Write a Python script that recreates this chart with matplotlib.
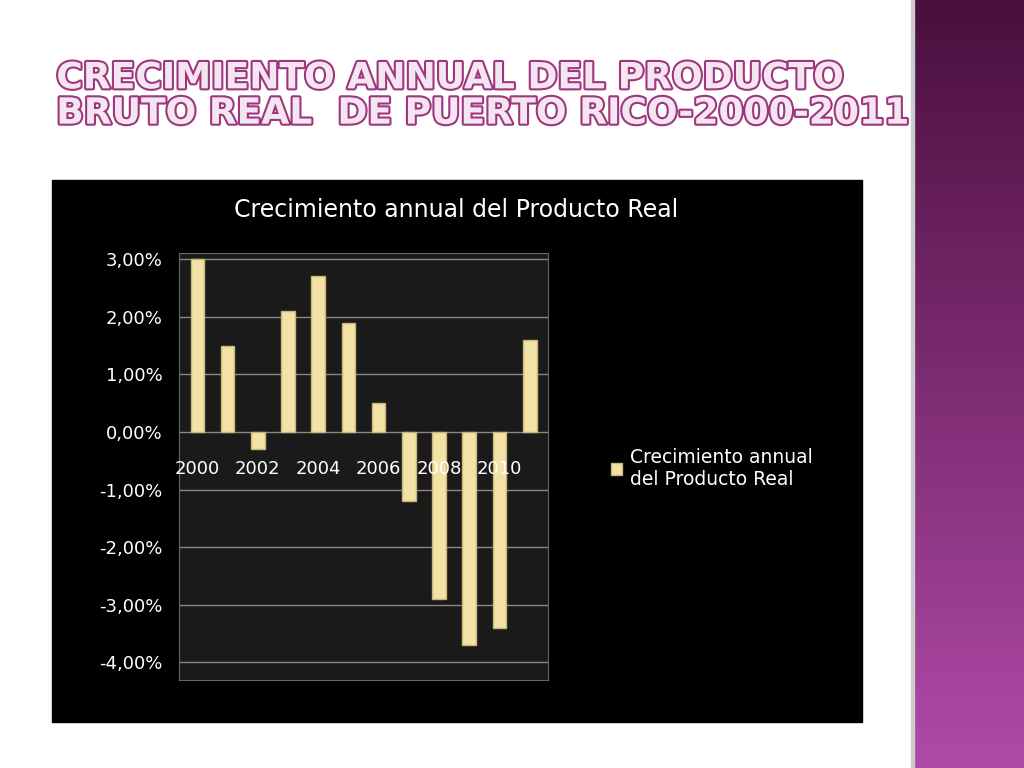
import matplotlib
matplotlib.use("Agg")
import matplotlib.pyplot as plt
import matplotlib.patheffects as pe
import matplotlib.colors as mcolors
from matplotlib.patches import Rectangle
import numpy as np

years = [2000, 2001, 2002, 2003, 2004, 2005, 2006, 2007, 2008, 2009, 2010, 2011]
growth = [3.0, 1.5, -0.3, 2.1, 2.7, 1.9, 0.5, -1.2, -2.9, -3.7, -3.4, 1.6]
yticks = [3, 2, 1, 0, -1, -2, -3, -4]
ytick_labels = ["3,00%", "2,00%", "1,00%", "0,00%", "-1,00%", "-2,00%", "-3,00%", "-4,00%"]
year_labels = ["2000", "2002", "2004", "2006", "2008", "2010"]

fig = plt.figure(figsize=(10.24, 7.68), dpi=100)
fig.patch.set_facecolor("white")
strip = fig.add_axes([0.893, 0, 0.107, 1])
strip.axis("off")
grad = np.linspace(0, 1, 256).reshape(-1, 1)
strip.imshow(grad, aspect="auto", cmap=mcolors.LinearSegmentedColormap.from_list("p", ["#4a0f3e", "#b04aa8"]), extent=[0, 1, 0, 1], origin="upper")
fig.add_artist(Rectangle((0.890, 0), 0.003, 1, transform=fig.transFigure, color="#cccccc"))

fig.text(0.055, 0.875, "CRECIMIENTO ANNUAL DEL PRODUCTO\nBRUTO REAL  DE PUERTO RICO-2000-2011",
         fontsize=26, fontweight="bold", color="#f4e6f0", family="DejaVu Sans",
         va="center", ha="left", linespacing=1.05,
         path_effects=[pe.withStroke(linewidth=3, foreground="#a0357f")])

fig.add_artist(Rectangle((0.051, 0.060), 0.791, 0.706, transform=fig.transFigure, color="black", zorder=0))
fig.text(0.445, 0.727, "Crecimiento annual del Producto Real", color="white", fontsize=17, ha="center", va="center")

ax = fig.add_axes([0.175, 0.115, 0.36, 0.555])
ax.set_facecolor("#1a1a1a")
x = np.arange(len(years))
ax.bar(x, growth, width=0.45, color="#f3e2a6", edgecolor="#c9b57a", linewidth=1, zorder=3, label="Crecimiento annual\ndel Producto Real")
ax.set_ylim(-4.3, 3.1)
ax.set_xlim(-0.6, 11.6)
ax.set_yticks(yticks)
ax.set_yticklabels(ytick_labels, color="white", fontsize=13)
ax.yaxis.grid(True, color="#888888", linewidth=1, zorder=0)
ax.set_xticks([])
for i, lab in enumerate(year_labels):
    ax.text(2 * i, -0.65, lab, color="white", fontsize=13, ha="center", va="center", zorder=4)
for s in ax.spines.values():
    s.set_color("#666666")
ax.tick_params(axis="y", length=0, pad=12)

fig.legend(loc="center left", bbox_to_anchor=(0.58, 0.39), frameon=False, fontsize=13.5,
           labelcolor="white", handlelength=0.6, handleheight=0.6, handletextpad=0.4)
fig.savefig("out.png", dpi=100)
